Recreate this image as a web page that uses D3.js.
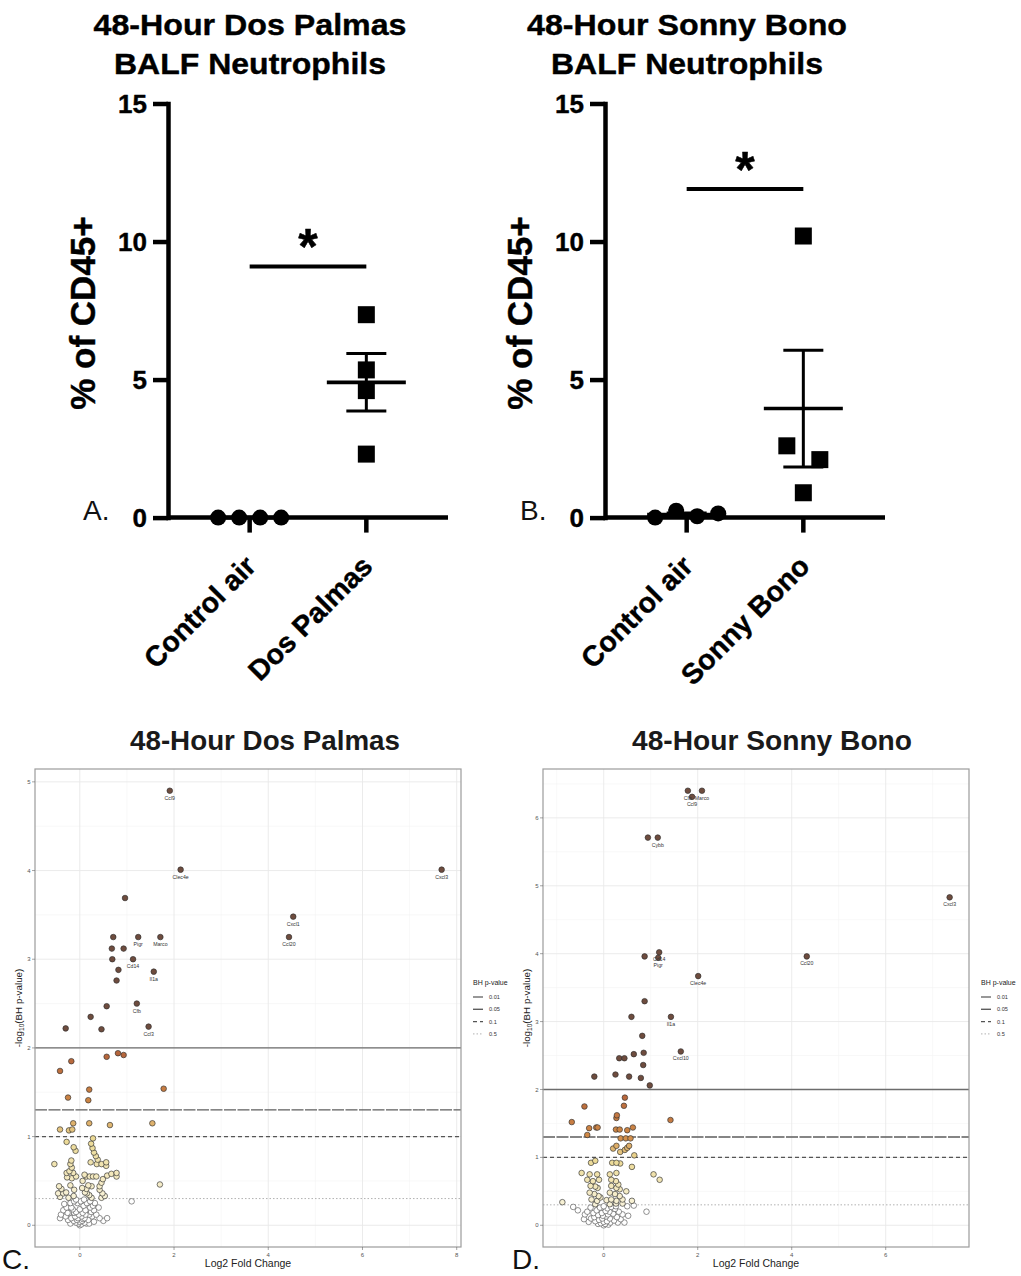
<!DOCTYPE html>
<html>
<head>
<meta charset="utf-8">
<script src="https://cdn.jsdelivr.net/npm/d3@7"></script>
<style>
  html, body { margin: 0; padding: 0; background: #fff; }
  svg { display: block; font-family: "Liberation Sans", Arial, Helvetica, sans-serif; }
</style>
</head>
<body>
<svg id="fig" width="1021" height="1276"></svg>
<script>
// ---------- BALF neutrophils, % of CD45+ cells (one value per mouse) ----------
const groupsDP = ["Control air", "Dos Palmas"];
const controlAirDP = [0, 0, 0, 0];
const dosPalmasPct = [7.35, 5.35, 4.6, 2.3];
const sigBarDP = 9.1;

const groupsSB = ["Control air", "Sonny Bono"];
const controlAirSB = [0, 0.25, 0.05, 0.15];
const sonnyBonoPct = [10.2, 2.6, 2.1, 0.9];
const sigBarSB = 11.9;

const pctTicks = [0, 5, 10, 15];

// ---------- Volcano plots: [gene, log2 fold change, -log10(BH p)] ----------
const dosPalmasLabeled = [
  ["Ccl9", 1.91, 4.90], ["Clec4e", 2.14, 4.01], ["Cxcl3", 7.68, 4.01],
  ["Cxcl1", 4.53, 3.48], ["Ccl20", 4.44, 3.25], ["Pigr", 1.24, 3.25],
  ["Marco", 1.71, 3.25], ["Cd14", 1.13, 3.00], ["Il1a", 1.57, 2.86],
  ["Cfb", 1.21, 2.50], ["Ccl3", 1.46, 2.24]
];
// remaining genes: [log2 fold change, -log10(BH p)]
const dosPalmasOther = [
  [0.96,3.69],[0.71,3.25],[0.68,3.12],[0.93,3.12],[0.69,3.00],[0.82,2.88],[0.78,2.76],
  [0.57,2.47],[0.23,2.35],[-0.30,2.22],[0.46,2.21],
  [0.81,1.94],[0.93,1.92],[0.57,1.90],[-0.18,1.85],[-0.42,1.74],[0.20,1.53],[1.78,1.54],
  [-0.25,1.44],[0.18,1.41],
  [-0.42,1.08],[-0.23,1.07],[-0.16,1.08],[-0.14,1.15],[0.20,1.15],[0.64,1.13],[1.54,1.15],
  [-0.28,0.94],[-0.13,0.88],[-0.09,0.84],[-0.54,0.69],[-0.18,0.73],[-0.20,0.69],[-0.17,0.65],
  [-0.22,0.61],[-0.28,0.59],[-0.14,0.59],[-0.27,0.54],[-0.17,0.53],[-0.08,0.55],[0.28,0.98],
  [0.24,0.92],[0.27,0.87],[0.30,0.82],[0.34,0.78],[0.38,0.74],[0.23,0.71],[0.36,0.69],
  [0.46,0.69],[0.56,0.71],[0.56,0.67],[0.14,0.55],[0.21,0.55],[0.28,0.55],[0.35,0.55],
  [0.58,0.56],[0.67,0.58],[0.78,0.59],[0.78,0.55],[0.49,0.52],[0.46,0.48],[0.42,0.44],
  [0.42,0.40],[0.48,0.36],[0.53,0.33],[0.46,0.31],[0.18,0.45],[0.14,0.41],[0.25,0.44],
  [0.11,0.37],[0.20,0.34],[0.25,0.31],[-0.44,0.44],[-0.39,0.41],[-0.46,0.36],[-0.35,0.36],
  [-0.42,0.32],[-0.29,0.37],[-0.24,0.31],[-0.13,0.33],[-0.12,0.40],[-0.20,0.45],[1.70,0.46],
  [0.06,0.50],[0.10,0.57],[0.15,0.36],[0.05,0.42],
  [1.10,0.27],[0.58,0.08],[0.50,0.05],[0.42,0.08],[0.35,0.12],[0.30,0.17],[0.28,0.22],
  [0.22,0.27],[0.15,0.25],[0.08,0.22],[-0.05,0.25],[-0.12,0.27],[-0.20,0.25],[-0.28,0.20],
  [-0.35,0.17],[-0.40,0.12],[-0.42,0.08],[-0.30,0.10],[-0.22,0.14],[-0.15,0.18],[-0.08,0.15],
  [0.00,0.18],[0.06,0.14],[0.12,0.17],[0.20,0.12],[0.26,0.10],[0.18,0.06],[0.10,0.08],
  [0.04,0.10],[-0.02,0.12],[-0.10,0.10],[-0.18,0.08],[-0.25,0.06],[-0.13,0.05],[-0.06,0.06],
  [0.00,0.04],[0.05,0.05],[0.10,0.03],[0.14,0.02],[-0.03,0.02],[0.00,0.00],[0.03,0.01],
  [-0.08,0.03],[0.07,0.07],[-0.04,0.08],[0.22,0.20],[-0.33,0.24],[0.32,0.25],[0.40,0.20],
  [-0.18,0.20],[0.12,0.12],[-0.12,0.14],[0.20,0.02],[-0.20,0.02],[0.30,0.04],[0.24,0.15],
  [-0.26,0.14],[0.02,0.27],[0.09,0.29],[-0.08,0.29]
];

const sonnyBonoLabeled = [
  ["Cfb", 1.79, 6.40], ["Marco", 2.09, 6.40], ["Ccl9", 1.88, 6.31],
  ["Cybb", 1.15, 5.71], ["Cxcl3", 7.36, 4.83], ["Cd14", 1.18, 4.02],
  ["Pigr", 1.16, 3.94], ["Ccl20", 4.32, 3.96], ["Clec4e", 2.01, 3.67],
  ["Il1a", 1.43, 3.07], ["Cxcl10", 1.64, 2.56]
];
const sonnyBonoOther = [
  [0.94,5.71],[0.87,3.96],[0.87,3.30],[0.59,3.07],[0.82,2.79],[0.85,2.54],[0.64,2.52],
  [0.33,2.46],[0.44,2.46],[0.84,2.36],[-0.20,2.19],[0.25,2.22],[0.54,2.19],[0.79,2.17],[0.98,2.06],
  [0.45,1.88],[0.43,1.76],[-0.41,1.75],[0.28,1.62],[0.27,1.58],[-0.68,1.52],[1.42,1.55],
  [-0.31,1.43],[-0.16,1.44],[-0.13,1.44],[0.26,1.41],[0.34,1.41],[0.50,1.40],[0.62,1.44],[-0.35,1.33],
  [0.36,1.28],[0.47,1.28],[0.57,1.28],[0.27,1.17],[0.20,1.13],[0.50,1.14],[0.54,1.17],
  [0.35,1.08],[0.45,1.11],[0.65,1.03],
  [-0.27,0.92],[-0.18,0.95],[0.18,0.92],[0.27,0.92],[0.35,0.91],[0.60,0.86],[1.06,0.75],
  [1.19,0.67],[-0.47,0.77],[-0.30,0.75],[-0.14,0.75],[0.13,0.75],[0.27,0.77],[-0.35,0.67],
  [-0.23,0.65],[-0.10,0.67],[-0.28,0.58],[-0.18,0.57],[-0.13,0.55],[0.16,0.67],[0.26,0.65],
  [0.31,0.60],[0.16,0.58],[0.27,0.55],[0.34,0.53],[0.48,0.50],[-0.30,0.48],[-0.20,0.46],
  [-0.11,0.43],[-0.26,0.38],[-0.14,0.36],[0.13,0.48],[0.24,0.46],[0.34,0.43],[0.16,0.38],
  [0.27,0.36],[0.40,0.38],[0.60,0.36],[-0.88,0.34],[-0.18,0.31],[0.13,0.31],[0.26,0.32],
  [0.40,0.32],[-0.07,0.41],[0.06,0.37],
  [-0.65,0.27],[-0.55,0.22],[-0.42,0.09],[0.91,0.20],[0.52,0.14],[0.50,0.28],[0.64,0.29],
  [-0.35,0.20],[-0.28,0.26],[-0.22,0.18],[-0.15,0.22],[-0.08,0.26],[0.00,0.28],[0.08,0.25],
  [0.16,0.27],[0.24,0.24],[0.32,0.20],[0.40,0.16],[0.36,0.09],[0.28,0.12],[0.20,0.17],
  [0.12,0.20],[0.04,0.21],[-0.04,0.18],[-0.12,0.15],[-0.20,0.12],[-0.27,0.10],[-0.32,0.05],
  [-0.18,0.06],[-0.10,0.08],[-0.03,0.10],[0.05,0.13],[0.13,0.10],[0.22,0.07],[0.30,0.04],
  [0.14,0.04],[0.07,0.06],[0.00,0.05],[-0.06,0.03],[0.03,0.02],[0.00,0.00],[-0.12,0.02],
  [0.10,0.01],[0.44,0.04],[-0.40,0.16],[0.26,0.28],[-0.02,0.14],[0.09,0.16]
];

// BH-adjusted p-value cut-offs drawn as reference lines
const bhCutoffs = [0.01, 0.05, 0.1, 0.5];
const bhLabels = ["0.01", "0.05", "0.1", "0.5"];

// ======================================================================
const svg = d3.select("#fig");

// Spread points that would overlap vertically sideways (column scatter)
function dodge(values, yScale, minGap, spacing) {
  const order = values.map((v, i) => i).sort((a, b) => values[b] - values[a]);
  const offsets = new Array(values.length).fill(0);
  let cluster = [order[0]];
  const flush = () => {
    const idx = cluster.slice().sort((a, b) => a - b);
    idx.forEach((k, j) => { offsets[k] = (j - (idx.length - 1) / 2) * spacing; });
  };
  for (let n = 1; n < order.length; n++) {
    const prev = cluster[cluster.length - 1];
    if (Math.abs(yScale(values[order[n]]) - yScale(values[prev])) < minGap) cluster.push(order[n]);
    else { flush(); cluster = [order[n]]; }
  }
  flush();
  return offsets;
}

// heavy bold text: bold face plus a thin outline of the same colour
function heavy(sel, w) {
  return sel.attr("font-weight", "bold").attr("fill", "#000")
    .attr("stroke", "#000").attr("stroke-width", w).attr("stroke-linejoin", "round");
}

function drawDotPanel(cfg) {
  const ax = cfg.axisX;
  const g = svg.append("g");
  const y = d3.scaleLinear().domain([0, 15]).range([517.6, 103.5]);
  const x = d3.scalePoint().domain(cfg.groups).range([ax, ax + 280]).padding(0.7);

  // title
  cfg.title.forEach((t, i) => {
    heavy(g.append("text"), 0.4).attr("x", ax + 82).attr("y", 35 + i * 39)
      .attr("text-anchor", "middle").attr("font-size", 30)
      .attr("textLength", cfg.titleLen[i]).attr("lengthAdjust", "spacingAndGlyphs").text(t);
  });

  // y axis
  const ya = g.append("g").attr("transform", `translate(${ax},0)`)
    .call(d3.axisLeft(y).tickValues(pctTicks).tickSize(15).tickSizeOuter(0).tickPadding(6));
  ya.attr("font-family", null);
  ya.select(".domain").attr("stroke", "#000").attr("stroke-width", 4.5).attr("stroke-linecap", "square");
  ya.selectAll(".tick line").attr("stroke", "#000").attr("stroke-width", 4.5);
  heavy(ya.selectAll(".tick text"), 0.4).attr("font-size", 26).attr("dy", "0.36em");

  // y title
  heavy(g.append("text"), 0.4).attr("transform", `translate(${ax - 86},313) rotate(-90)`)
    .attr("text-anchor", "middle").attr("dy", "0.36em")
    .attr("font-size", 35).text("% of CD45+");

  // x axis
  g.append("line").attr("x1", ax).attr("x2", ax + 280).attr("y1", y(0)).attr("y2", y(0))
    .attr("stroke", "#000").attr("stroke-width", 4.5);
  cfg.groups.forEach(c => {
    g.append("line").attr("x1", x(c)).attr("x2", x(c)).attr("y1", y(0)).attr("y2", y(0) + 15)
      .attr("stroke", "#000").attr("stroke-width", 4.5);
    heavy(g.append("text"), 0.4).attr("transform", `translate(${x(c) + 8},568) rotate(-45)`)
      .attr("text-anchor", "end").attr("font-size", 28.5).text(c);
  });

  // panel letter
  g.append("text").attr("x", ax - 85).attr("y", 520).attr("font-size", 28)
    .attr("fill", "#111").text(cfg.letter);

  // mean +/- SEM
  cfg.values.forEach((vals, gi) => {
    const cx = x(cfg.groups[gi]);
    const m = d3.mean(vals);
    const sem = d3.deviation(vals) / Math.sqrt(vals.length);
    g.append("line").attr("x1", cx - 39.5).attr("x2", cx + 39.5).attr("y1", y(m)).attr("y2", y(m))
      .attr("stroke", "#000").attr("stroke-width", 3.6);
    if (sem > 0.05) {
      g.append("line").attr("x1", cx).attr("x2", cx).attr("y1", y(m + sem)).attr("y2", y(m - sem))
        .attr("stroke", "#000").attr("stroke-width", 3);
      [m + sem, m - sem].forEach(v => {
        g.append("line").attr("x1", cx - 20).attr("x2", cx + 20).attr("y1", y(v)).attr("y2", y(v))
          .attr("stroke", "#000").attr("stroke-width", 3);
      });
    }
  });

  // individual animals: circles for control air, squares for exposure
  cfg.values.forEach((vals, gi) => {
    const cx = x(cfg.groups[gi]);
    const off = dodge(vals, y, 17, gi === 0 ? 21 : 33);
    vals.forEach((v, i) => {
      if (gi === 0) {
        g.append("circle").attr("cx", cx + off[i]).attr("cy", y(v)).attr("r", 8).attr("fill", "#000");
      } else {
        g.append("rect").attr("x", cx + off[i] - 8.5).attr("y", y(v) - 8.5)
          .attr("width", 17).attr("height", 17).attr("fill", "#000");
      }
    });
  });

  // significance bar
  const x0 = x(cfg.groups[0]), x1 = x(cfg.groups[1]);
  g.append("line").attr("x1", x0).attr("x2", x1).attr("y1", y(cfg.sigY)).attr("y2", y(cfg.sigY))
    .attr("stroke", "#000").attr("stroke-width", 4);
  heavy(g.append("text"), 0.5).attr("x", (x0 + x1) / 2).attr("y", y(cfg.sigY) - 2)
    .attr("text-anchor", "middle").attr("font-size", 50).text("*");
}

drawDotPanel({
  axisX: 168, groups: groupsDP, values: [controlAirDP, dosPalmasPct], sigY: sigBarDP,
  title: ["48-Hour Dos Palmas", "BALF Neutrophils"], titleLen: [313, 272], letter: "A."
});
drawDotPanel({
  axisX: 605, groups: groupsSB, values: [controlAirSB, sonnyBonoPct], sigY: sigBarSB,
  title: ["48-Hour Sonny Bono", "BALF Neutrophils"], titleLen: [320, 272], letter: "B."
});

// ======================================================================
const fillAbove = d3.scaleLinear().domain([0.301, 1, 1.3, 2])
  .range(["#f8f2d8", "#ebd892", "#d08a46", "#b3613a"]).clamp(true);
function pointFill(v) {
  if (v >= 2) return "#6e4c3e";
  if (v < -Math.log10(0.5)) return "#ffffff";
  return fillAbove(v);
}
const cutStroke = ["#6c6c6c", "#5e5e5e", "#555555", "#a8a8a8"];
const cutDash = [null, "12,1.5", "4,3", "1.5,2"];
const cutWidth = [1.4, 1.4, 1.1, 0.9];

function drawVolcano(cfg) {
  const { left, right, top, bottom } = cfg;
  const pts = cfg.others.map(d => ({ gene: "", x: d[0], y: d[1] }))
    .concat(cfg.labeled.map(d => ({ gene: d[0], x: d[1], y: d[2] })));
  const xe = d3.extent(pts, d => d.x), ye = d3.extent(pts, d => d.y);
  const xp = 0.05 * (xe[1] - xe[0]), yp = 0.05 * (ye[1] - ye[0]);
  const xs = d3.scaleLinear().domain([xe[0] - xp, xe[1] + xp]).range([left, right]);
  const ys = d3.scaleLinear().domain([ye[0] - yp, ye[1] + yp]).range([bottom, top]);
  const g = svg.append("g");

  const minor = (scale, major) => {
    const step = major[1] - major[0];
    const out = [];
    const [lo, hi] = scale.domain();
    for (let v = major[0] - step / 2; v <= major[major.length - 1] + step / 2 + 1e-9; v += step) {
      if (v > lo && v < hi) out.push(v);
    }
    return out;
  };
  const xMaj = xs.ticks(5), yMaj = ys.ticks(5);
  const xMin = minor(xs, xMaj), yMin = minor(ys, yMaj);

  // grid
  xMin.forEach(v => g.append("line").attr("x1", xs(v)).attr("x2", xs(v)).attr("y1", top).attr("y2", bottom)
    .attr("stroke", "#f3f3f3").attr("stroke-width", 0.6));
  yMin.forEach(v => g.append("line").attr("x1", left).attr("x2", right).attr("y1", ys(v)).attr("y2", ys(v))
    .attr("stroke", "#f3f3f3").attr("stroke-width", 0.6));
  xMaj.forEach(v => g.append("line").attr("x1", xs(v)).attr("x2", xs(v)).attr("y1", top).attr("y2", bottom)
    .attr("stroke", "#e9e9e9").attr("stroke-width", 0.9));
  yMaj.forEach(v => g.append("line").attr("x1", left).attr("x2", right).attr("y1", ys(v)).attr("y2", ys(v))
    .attr("stroke", "#e9e9e9").attr("stroke-width", 0.9));

  // BH cut-off lines
  bhCutoffs.forEach((p, i) => {
    const v = -Math.log10(p);
    g.append("line").attr("x1", left).attr("x2", right).attr("y1", ys(v)).attr("y2", ys(v))
      .attr("stroke", cutStroke[i]).attr("stroke-width", cutWidth[i])
      .attr("stroke-dasharray", cutDash[i]);
  });

  // genes
  const sorted = pts.slice().sort((a, b) => a.y - b.y);
  g.selectAll("circle.gene").data(sorted).join("circle").attr("class", "gene")
    .attr("cx", d => xs(d.x)).attr("cy", d => ys(d.y)).attr("r", 2.8)
    .attr("fill", d => pointFill(d.y))
    .attr("stroke", d => d.y < -Math.log10(0.5) ? "#555" : "#2e2e2e")
    .attr("stroke-width", 0.65);
  g.selectAll("text.gene").data(pts.filter(d => d.gene)).join("text").attr("class", "gene")
    .attr("x", d => xs(d.x)).attr("y", d => ys(d.y) + 9)
    .attr("text-anchor", "middle").attr("font-size", 5.2).attr("fill", "#333").text(d => d.gene);

  // panel border
  g.append("rect").attr("x", left).attr("y", top).attr("width", right - left).attr("height", bottom - top)
    .attr("fill", "none").attr("stroke", "#9c9c9c").attr("stroke-width", 1.2);

  // ticks
  xMaj.forEach(v => {
    g.append("line").attr("x1", xs(v)).attr("x2", xs(v)).attr("y1", bottom).attr("y2", bottom + 3)
      .attr("stroke", "#666").attr("stroke-width", 0.6);
    g.append("text").attr("x", xs(v)).attr("y", bottom + 9.5).attr("text-anchor", "middle")
      .attr("font-size", 6).attr("fill", "#555").text(v);
  });
  yMaj.forEach(v => {
    g.append("line").attr("x1", left - 3).attr("x2", left).attr("y1", ys(v)).attr("y2", ys(v))
      .attr("stroke", "#666").attr("stroke-width", 0.6);
    g.append("text").attr("x", left - 4.5).attr("y", ys(v) + 2.1).attr("text-anchor", "end")
      .attr("font-size", 6).attr("fill", "#555").text(v);
  });

  // axis titles
  g.append("text").attr("x", (left + right) / 2).attr("y", 1267).attr("text-anchor", "middle")
    .attr("font-size", 10.5).attr("fill", "#222").text("Log2 Fold Change");
  const yt = g.append("text").attr("transform", `translate(${left - 13},${(top + bottom) / 2}) rotate(-90)`)
    .attr("text-anchor", "middle").attr("font-size", 9.8).attr("fill", "#222");
  yt.append("tspan").text("-log");
  yt.append("tspan").attr("font-size", 6.5).attr("dy", 2).text("10");
  yt.append("tspan").attr("dy", -2).text("(BH p-value)");

  // legend
  const lx = right + 12;
  g.append("text").attr("x", lx).attr("y", 985).attr("font-size", 7).attr("fill", "#222").text("BH p-value");
  bhLabels.forEach((t, i) => {
    const ly = 997 + i * 12.3;
    g.append("line").attr("x1", lx).attr("x2", lx + 10).attr("y1", ly).attr("y2", ly)
      .attr("stroke", cutStroke[i]).attr("stroke-width", cutWidth[i]).attr("stroke-dasharray", i === 1 ? null : cutDash[i]);
    g.append("text").attr("x", lx + 16).attr("y", ly + 2).attr("font-size", 5.6).attr("fill", "#333").text(t);
  });

  // title and panel letter
  g.append("text").attr("x", cfg.titleX).attr("y", 750).attr("text-anchor", "middle")
    .attr("font-size", 27).attr("font-weight", "bold").attr("fill", "#1a1a1a")
    .attr("textLength", cfg.titleLen).attr("lengthAdjust", "spacingAndGlyphs").text(cfg.title);
  g.append("text").attr("x", cfg.letterX).attr("y", 1269).attr("font-size", 28).attr("fill", "#111").text(cfg.letter);
}

drawVolcano({
  left: 35, right: 461, top: 769, bottom: 1247,
  labeled: dosPalmasLabeled, others: dosPalmasOther,
  title: "48-Hour Dos Palmas", titleX: 265, titleLen: 270, letter: "C.", letterX: 2
});
drawVolcano({
  left: 543, right: 969, top: 769, bottom: 1247,
  labeled: sonnyBonoLabeled, others: sonnyBonoOther,
  title: "48-Hour Sonny Bono", titleX: 772, titleLen: 280, letter: "D.", letterX: 512
});
</script>
</body>
</html>
